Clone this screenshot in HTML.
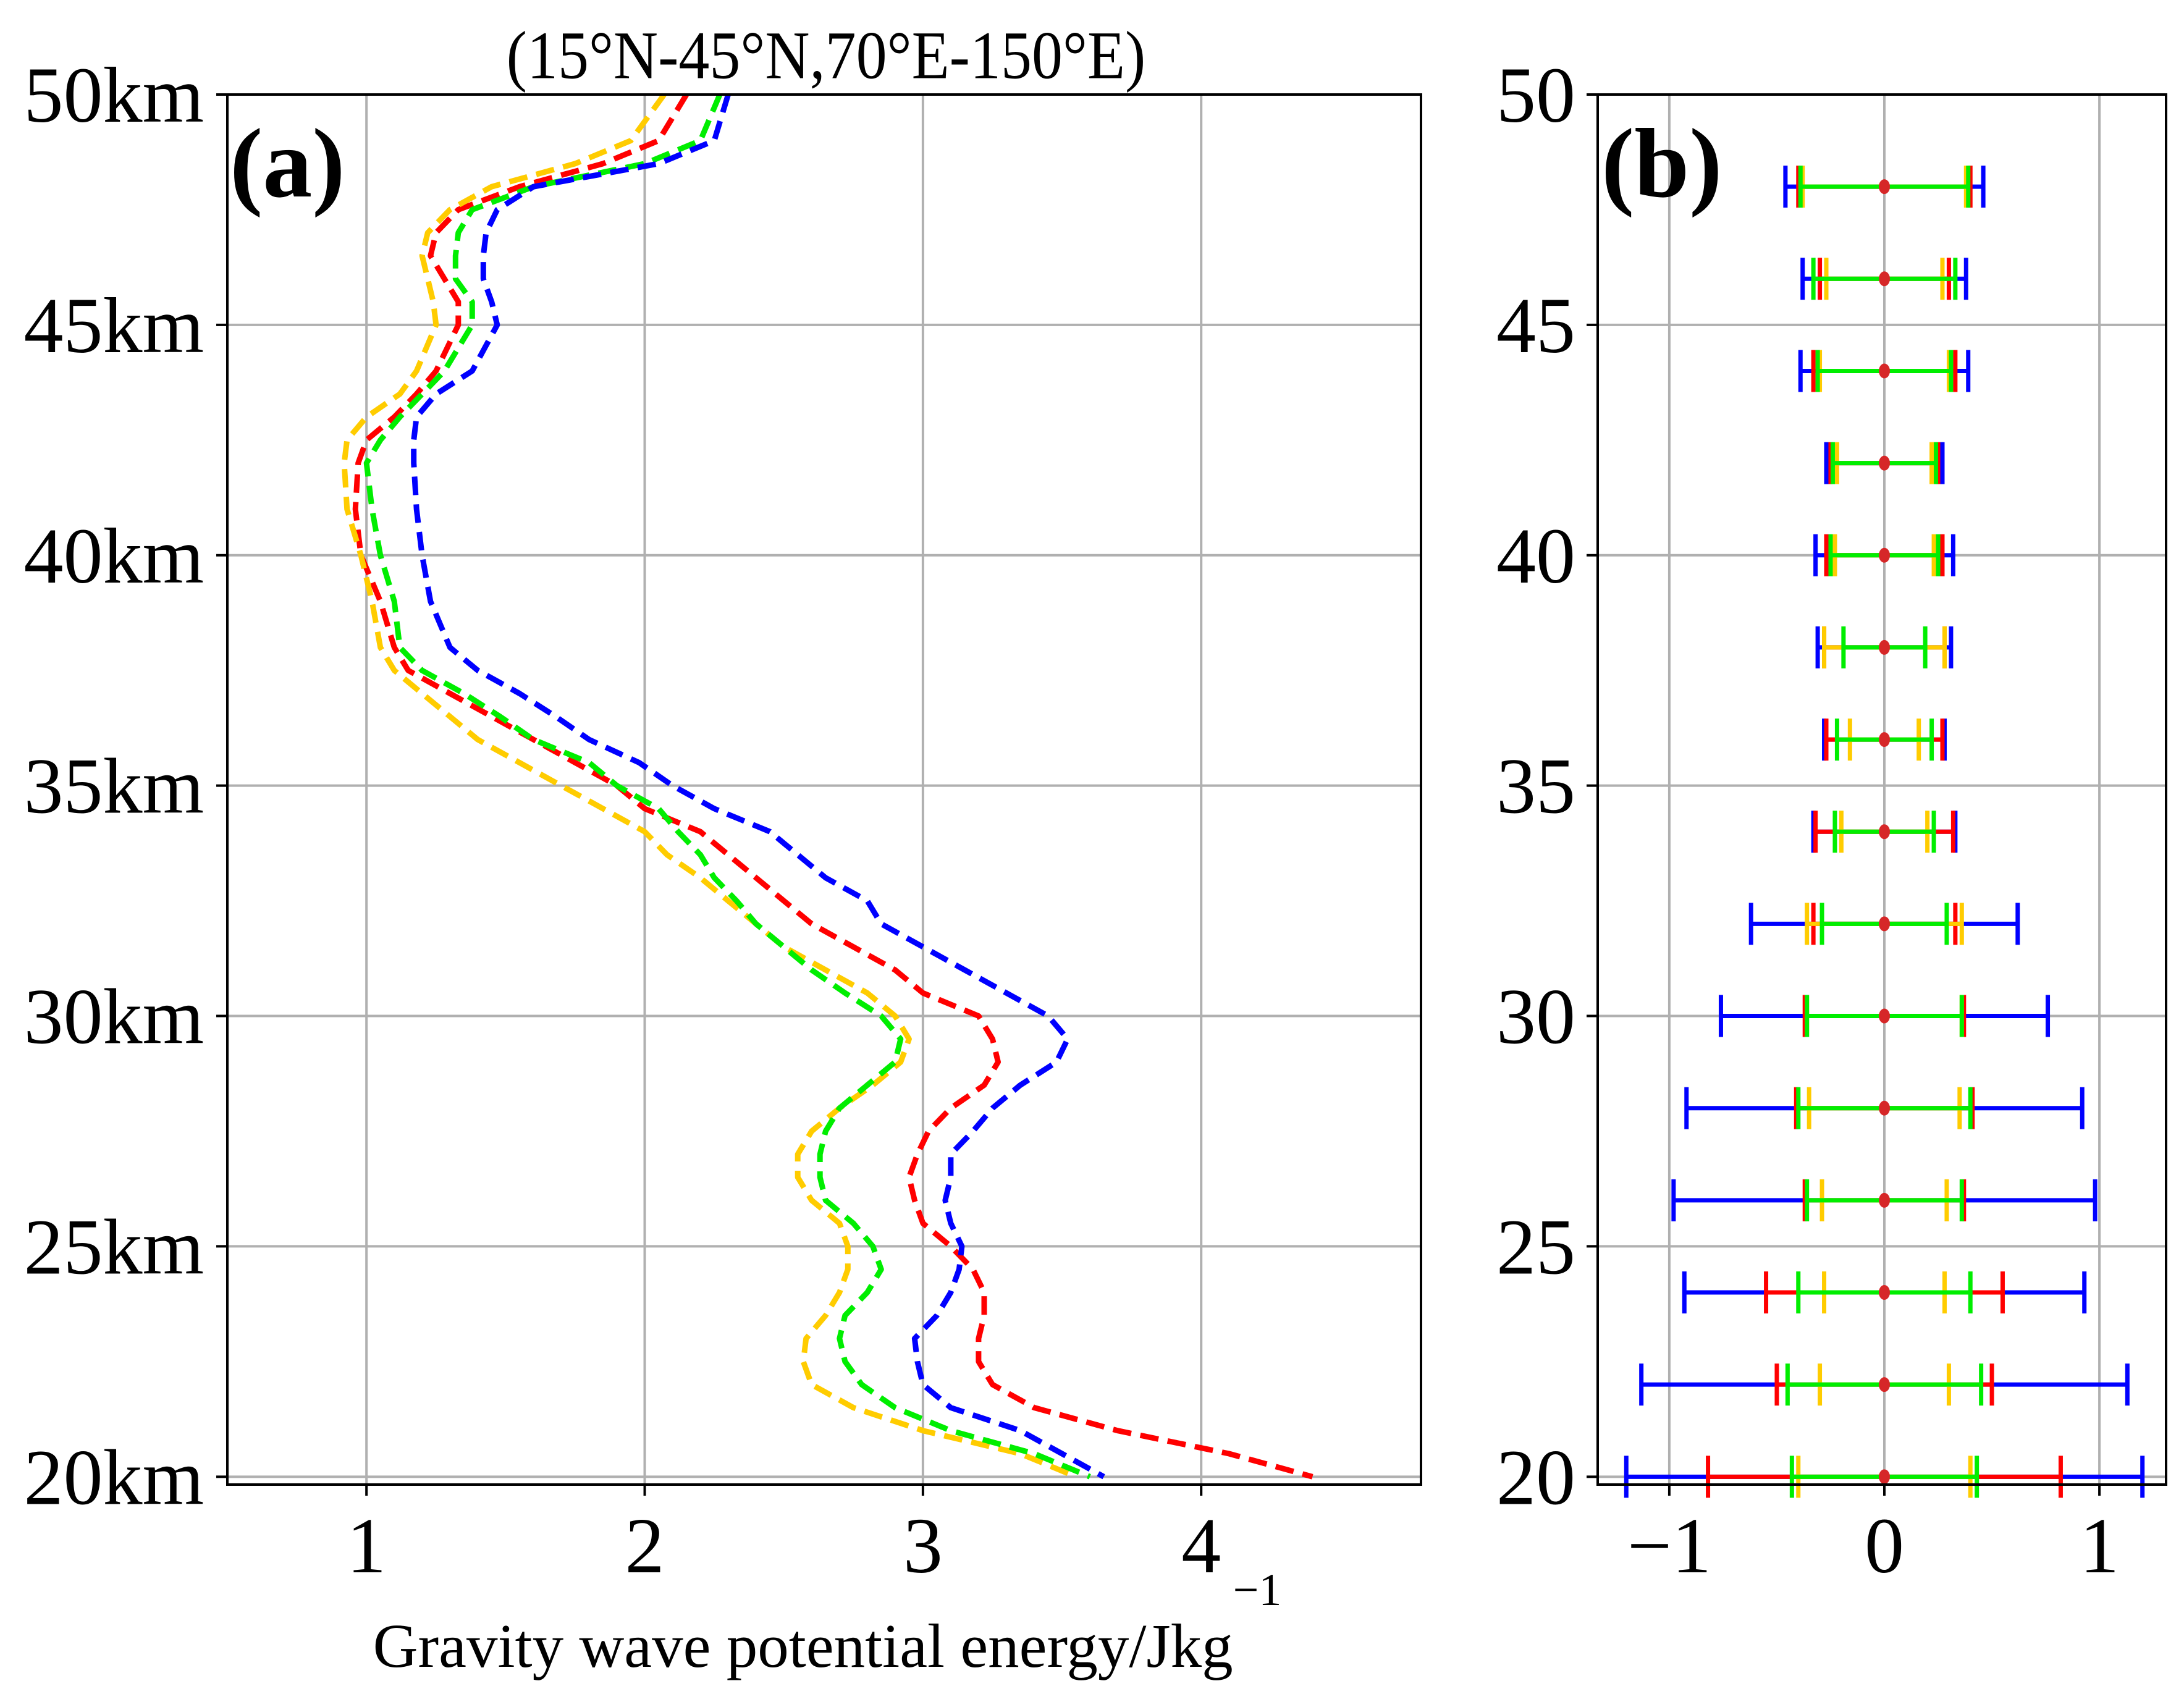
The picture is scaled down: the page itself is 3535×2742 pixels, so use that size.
<!DOCTYPE html>
<html><head><meta charset="utf-8"><style>
html,body{margin:0;padding:0;background:#fff;}
svg{display:block;font-family:"Liberation Serif",serif;}
</style></head><body>
<svg id="chart" width="3535" height="2742" viewBox="0 0 3535 2742" xmlns="http://www.w3.org/2000/svg">
<rect width="3535" height="2742" fill="#fff"/>
<g id="pa"></g>
<g id="pb"></g>
<text x="1337" y="126" font-size="100" text-anchor="middle" transform="translate(0,-12) scale(1,1.1)">(15°N-45°N,70°E-150°E)</text>
<text x="372" y="318" font-size="160" font-weight="bold">(a)</text>
<text x="2592" y="318" font-size="160" font-weight="bold">(b)</text>
<text x="1339" y="2698" font-size="101" text-anchor="middle">Gravity wave potential energy/Jkg<tspan dy="-100" font-size="74">−1</tspan></text>
</svg>
<script>
const heights = [50,49,48.5,48,47.5,47,46.5,46,45.5,45,44,43.5,43,42.5,42,41,40,39,38,37.5,37,36.5,36,35.5,35,34.5,34,33.5,33,32.5,32,31.5,31,30.5,30,29.5,29,28.5,28,27.5,27,26.5,26,25.5,25,24.5,24,23.5,23,22.5,22,21.5,21,20.5,20];
const blueVals = [2.3,2.25,2.05,1.6,1.47,1.43,1.42,1.42,1.45,1.47,1.38,1.25,1.18,1.17,1.17,1.18,1.2,1.23,1.3,1.4,1.55,1.68,1.8,1.98,2.1,2.25,2.45,2.55,2.65,2.8,2.85,3.0,3.15,3.3,3.45,3.52,3.48,3.35,3.25,3.18,3.1,3.1,3.08,3.1,3.14,3.13,3.1,3.05,2.97,2.98,3.0,3.1,3.35,3.5,3.65];
const redVals = [2.15,2.05,1.85,1.55,1.33,1.25,1.23,1.28,1.33,1.33,1.25,1.18,1.1,1.0,0.97,0.96,0.98,1.05,1.1,1.15,1.3,1.45,1.6,1.75,1.9,2.0,2.2,2.3,2.4,2.5,2.6,2.75,2.9,3.0,3.2,3.25,3.27,3.22,3.1,3.02,2.98,2.95,2.97,3.0,3.1,3.18,3.22,3.22,3.2,3.2,3.25,3.4,3.7,4.1,4.4];
const greenVals = [2.27,2.2,2.0,1.6,1.38,1.33,1.32,1.32,1.38,1.38,1.28,1.2,1.12,1.05,1.0,1.02,1.05,1.1,1.12,1.2,1.35,1.48,1.6,1.8,1.9,2.05,2.12,2.2,2.25,2.33,2.4,2.5,2.6,2.72,2.85,2.92,2.9,2.8,2.7,2.65,2.63,2.63,2.65,2.75,2.82,2.85,2.8,2.72,2.7,2.72,2.78,2.9,3.1,3.4,3.6];
const yellowVals = [2.07,1.95,1.75,1.45,1.3,1.22,1.2,1.22,1.24,1.25,1.18,1.12,1.0,0.93,0.92,0.93,0.98,1.02,1.05,1.1,1.2,1.3,1.4,1.55,1.7,1.85,2.0,2.08,2.2,2.3,2.4,2.5,2.65,2.8,2.9,2.95,2.92,2.82,2.7,2.6,2.55,2.55,2.6,2.7,2.73,2.73,2.7,2.65,2.58,2.57,2.6,2.75,3.0,3.35,3.55];
const xTicksA = [1,2,3,4];
const yTicksA = [20,25,30,35,40,45,50];
const yTickLabelsA = ["20km","25km","30km","35km","40km","45km","50km"];
const barHeights = [48,46,44,42,40,38,36,34,32,30,28,26,24,22,20];
const blueErr = [0.46,0.38,0.39,0.27,0.32,0.31,0.28,0.33,0.62,0.76,0.92,0.98,0.93,1.13,1.2];
const redErr = [0.40,0.30,0.33,0.25,0.27,0.28,0.27,0.32,0.33,0.37,0.41,0.37,0.55,0.50,0.82];
const yellowErr = [0.38,0.27,0.30,0.22,0.23,0.28,0.16,0.20,0.36,0.36,0.35,0.29,0.28,0.30,0.40];
const greenErr = [0.39,0.33,0.31,0.24,0.25,0.19,0.22,0.23,0.29,0.36,0.40,0.36,0.40,0.45,0.43];
const centers = [0,0,0,0,0,0,0,0,0,0,0,0,0,0,0];
const xTicksB = [-1,0,1];
const xTickLabelsB = ["−1","0","1"];
const yTicksB = [20,25,30,35,40,45,50];

const NS="http://www.w3.org/2000/svg";
function mk(tag,attrs,parent){const e=document.createElementNS(NS,tag);for(const k in attrs)e.setAttribute(k,attrs[k]);parent.appendChild(e);return e;}
const Y0=19.83,Y1=50;const PT=153,PB=2403;
const yS=v=>PB-(v-Y0)/(Y1-Y0)*(PB-PT);
const A={l:368,r:2300,x0:0.5,x1:4.79};
const xA=v=>A.l+(v-A.x0)/(A.x1-A.x0)*(A.r-A.l);
const B={l:2586,r:3506,x0:-1.333,x1:1.31};
const xB=v=>B.l+(v-B.x0)/(B.x1-B.x0)*(B.r-B.l);
const pa=document.getElementById('pa'),pb=document.getElementById('pb');
const TFS=128;

xTicksA.forEach(t=>{
 const g=mk('line',{x1:xA(t),x2:xA(t),y1:PT,y2:PB,stroke:'#b0b0b0','stroke-width':4},pa);
 
 
});
yTicksA.forEach(t=>{
 const g=mk('line',{x1:A.l,x2:A.r,y1:yS(t),y2:yS(t),stroke:'#b0b0b0','stroke-width':4},pa);
 
 
});
const series=[[redVals,'#ff0000','red-series'],[yellowVals,'#ffcc00','yellow-series'],[greenVals,'#00ee00','green-series'],[blueVals,'#0000ff','blue-series']];
series.forEach(([vals,col,nm])=>{
 const d=vals.map((v,i)=>(i?'L':'M')+xA(v).toFixed(1)+','+yS(heights[i]).toFixed(1)).join(' ');
 const p=mk('path',{d:d,fill:'none',stroke:col,'stroke-width':9,'stroke-dasharray':'30 15','stroke-linejoin':'round'},pa);
 
 
});
const fa=mk('rect',{x:A.l,y:PT,width:A.r-A.l,height:PB-PT,fill:'none',stroke:'#000','stroke-width':4},pa);


xTicksA.forEach(t=>{
 mk('line',{x1:xA(t),x2:xA(t),y1:PB,y2:PB+18,stroke:'#000','stroke-width':4},pa);
 const tx=mk('text',{x:xA(t),y:2545,'font-size':TFS,'text-anchor':'middle'},pa);
 tx.textContent=t;
 
 
});
yTicksA.forEach((t,i)=>{
 mk('line',{x1:A.l-18,x2:A.l,y1:yS(t),y2:yS(t),stroke:'#000','stroke-width':4},pa);
 const tx=mk('text',{x:330,y:yS(t)+44,'font-size':TFS,'text-anchor':'end'},pa);
 tx.textContent=yTickLabelsA[i];
 
 
});

xTicksB.forEach(t=>{
 const g=mk('line',{x1:xB(t),x2:xB(t),y1:PT,y2:PB,stroke:'#b0b0b0','stroke-width':4},pb);
 
 
});
yTicksB.forEach(t=>{
 const g=mk('line',{x1:B.l,x2:B.r,y1:yS(t),y2:yS(t),stroke:'#b0b0b0','stroke-width':4},pb);
 
 
});
const errs=[[blueErr,'#0000ff','blue'],[redErr,'#ff0000','red'],[yellowErr,'#ffcc00','yellow'],[greenErr,'#00ee00','green']];
errs.forEach(([arr,col,nm])=>{
 arr.forEach((e,i)=>{
  const y=yS(barHeights[i]),c=centers[i];
  const g=mk('g',{stroke:col,'stroke-width':7},pb);
  
  
  mk('line',{x1:xB(c-e),x2:xB(c+e),y1:y,y2:y},g);
  mk('line',{x1:xB(c-e),x2:xB(c-e),y1:y-34,y2:y+34},g);
  mk('line',{x1:xB(c+e),x2:xB(c+e),y1:y-34,y2:y+34},g);
 });
});
barHeights.forEach((h,i)=>{
 const d=mk('ellipse',{cx:xB(centers[i]),cy:yS(h),rx:9,ry:12,fill:'#d62728'},pb);
 
 
});
const fb=mk('rect',{x:B.l,y:PT,width:B.r-B.l,height:PB-PT,fill:'none',stroke:'#000','stroke-width':4},pb);


xTicksB.forEach((t,i)=>{
 mk('line',{x1:xB(t),x2:xB(t),y1:PB,y2:PB+18,stroke:'#000','stroke-width':4},pb);
 const tx=mk('text',{x:xB(t),y:2545,'font-size':TFS,'text-anchor':'middle'},pb);
 tx.textContent=xTickLabelsB[i];
 
 
});
yTicksB.forEach(t=>{
 mk('line',{x1:B.l-18,x2:B.l,y1:yS(t),y2:yS(t),stroke:'#000','stroke-width':4},pb);
 const tx=mk('text',{x:2550,y:yS(t)+44,'font-size':TFS,'text-anchor':'end'},pb);
 tx.textContent=t;
 
 
});
</script>
</body></html>
